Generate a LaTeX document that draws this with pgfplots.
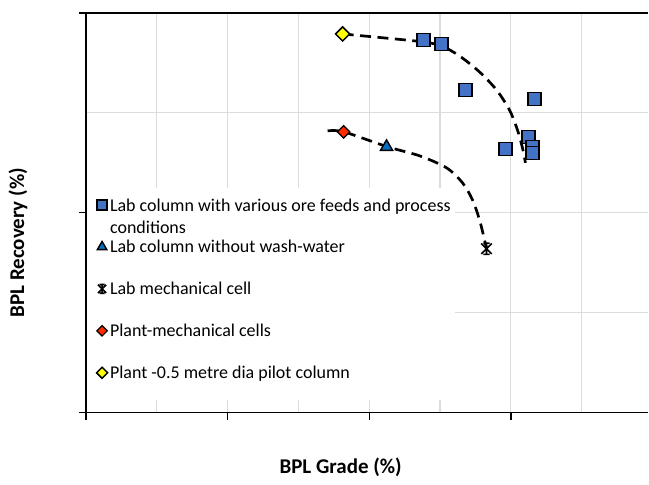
\documentclass[border=0pt]{standalone}
\usepackage{pgfplots}
\pgfplotsset{compat=1.18}
\usepackage{fontspec}
\setmainfont{Carlito}
\definecolor{sqblue}{HTML}{4472C4}
\definecolor{triblue}{HTML}{0070C0}
\definecolor{dred}{HTML}{FF2A00}
\definecolor{dyel}{HTML}{FFFF00}
\definecolor{gridc}{HTML}{DCDCDC}
\pgfdeclareplotmark{xstar}{%
  \pgfpathmoveto{\pgfqpoint{-.75\pgfplotmarksize}{-.75\pgfplotmarksize}}%
  \pgfpathlineto{\pgfqpoint{.75\pgfplotmarksize}{.75\pgfplotmarksize}}%
  \pgfpathmoveto{\pgfqpoint{-.75\pgfplotmarksize}{.75\pgfplotmarksize}}%
  \pgfpathlineto{\pgfqpoint{.75\pgfplotmarksize}{-.75\pgfplotmarksize}}%
  \pgfpathmoveto{\pgfqpoint{0pt}{-.8\pgfplotmarksize}}%
  \pgfpathlineto{\pgfqpoint{0pt}{.8\pgfplotmarksize}}%
  \pgfpathmoveto{\pgfqpoint{-.45\pgfplotmarksize}{.8\pgfplotmarksize}}%
  \pgfpathlineto{\pgfqpoint{.45\pgfplotmarksize}{.8\pgfplotmarksize}}%
  \pgfpathmoveto{\pgfqpoint{-.45\pgfplotmarksize}{-.8\pgfplotmarksize}}%
  \pgfpathlineto{\pgfqpoint{.45\pgfplotmarksize}{-.8\pgfplotmarksize}}%
  \pgfusepathqstroke}
\begin{document}
\begin{tikzpicture}
\begin{axis}[name=ax, scale only axis, width=563pt, height=400pt,
  xmin=0, xmax=7.94, ymin=0, ymax=4,
  axis x line*=box, axis y line*=left,
  axis line style={-, line width=1.5pt, black},
  xtick={0,2,4,6}, ytick={0,2,4}, minor xtick={1,3,5,7}, minor ytick={1,3},
  xtick pos=left, ytick pos=left,
  xticklabels={,,,,}, yticklabels={,,,},
  tick align=outside, major tick length=7pt, minor tick length=0pt,
  tick style={line width=1.3pt, black},
  grid=both, grid style={gridc, line width=1.2pt},
  major grid style={gridc, line width=1.2pt}, minor grid style={gridc, line width=1.2pt},
  xlabel={BPL Grade (\%)}, ylabel={BPL Recovery (\%)},
  label style={font=\fontsize{21}{24}\selectfont\bfseries},
  xlabel style={at={(axis description cs:0.453,-0.1375)}, anchor=center},
  ylabel style={at={(axis description cs:-0.1208,0.425)}, anchor=center},
  legend style={at={(axis description cs:0,0.5625)}, anchor=north west, xshift=1pt,
    fill=white, draw=none, font=\fontsize{18}{22}\selectfont,
    inner xsep=2pt, inner ysep=1pt, row sep=0pt, cells={anchor=west}},
  legend cell align=left,
  legend image code/.code={\path[draw=none] (0pt,-26pt) rectangle (19pt,16pt); \draw[#1] plot coordinates {(13pt,0pt)};},
]
% trend curves
\addplot[forget plot, black, line width=2.7pt, dash pattern=on 11pt off 6.5pt, smooth, tension=0.5]
  coordinates {(3.625,3.79) (4.217,3.75) (4.767,3.71) (5.021,3.67) (5.275,3.57) (5.557,3.41) (5.797,3.23) (5.980,3.03) (6.093,2.83) (6.164,2.65) (6.206,2.50)};
\addplot[forget plot, black, line width=2.7pt, dash pattern=on 11pt off 6.5pt, smooth, tension=0.5]
  coordinates {(3.413,2.82) (3.639,2.81) (4.260,2.66) (4.711,2.57) (5.092,2.45) (5.317,2.30) (5.458,2.13) (5.557,1.93) (5.628,1.73) (5.656,1.64)};
% series
\addplot[only marks, mark=square*, mark size=6.5pt, mark options={fill=sqblue, draw=black, line width=1.4pt},
  legend image post style={mark size=5pt}]
  coordinates {(4.767,3.73) (5.021,3.69) (5.360,3.23) (6.333,3.14) (6.248,2.76) (5.924,2.64) (6.305,2.66) (6.305,2.60)};
\addlegendentry{\begin{tabular}[t]{@{}l@{}}Lab column with various ore feeds and process\\conditions\end{tabular}}
\addplot[only marks, mark=triangle*, mark size=7pt, mark options={fill=triblue, draw=black, line width=1.4pt},
  legend image post style={mark size=5.5pt}]
  coordinates {(4.245,2.66)};
\addlegendentry{Lab column without wash-water}
\addplot[only marks, mark=xstar, mark size=7pt, mark options={draw=black, line width=1.6pt},
  legend image post style={mark size=5.5pt}]
  coordinates {(5.656,1.64)};
\addlegendentry{Lab mechanical cell}
\addplot[only marks, mark=square*, mark size=4.4pt, mark options={rotate=45, fill=dred, draw=black, line width=1.2pt},
  legend image post style={mark size=3.7pt}]
  coordinates {(3.639,2.81)};
\addlegendentry{Plant-mechanical cells}
\addplot[only marks, mark=square*, mark size=5pt, mark options={rotate=45, fill=dyel, draw=black, line width=1.5pt},
  legend image post style={mark size=3.9pt}]
  coordinates {(3.625,3.79)};
\addlegendentry{Plant -0.5 metre dia pilot column}
\end{axis}
\path ([xshift=-86pt,yshift=-72pt]ax.south west) rectangle ([yshift=13pt]ax.north east);
\end{tikzpicture}
\end{document}
